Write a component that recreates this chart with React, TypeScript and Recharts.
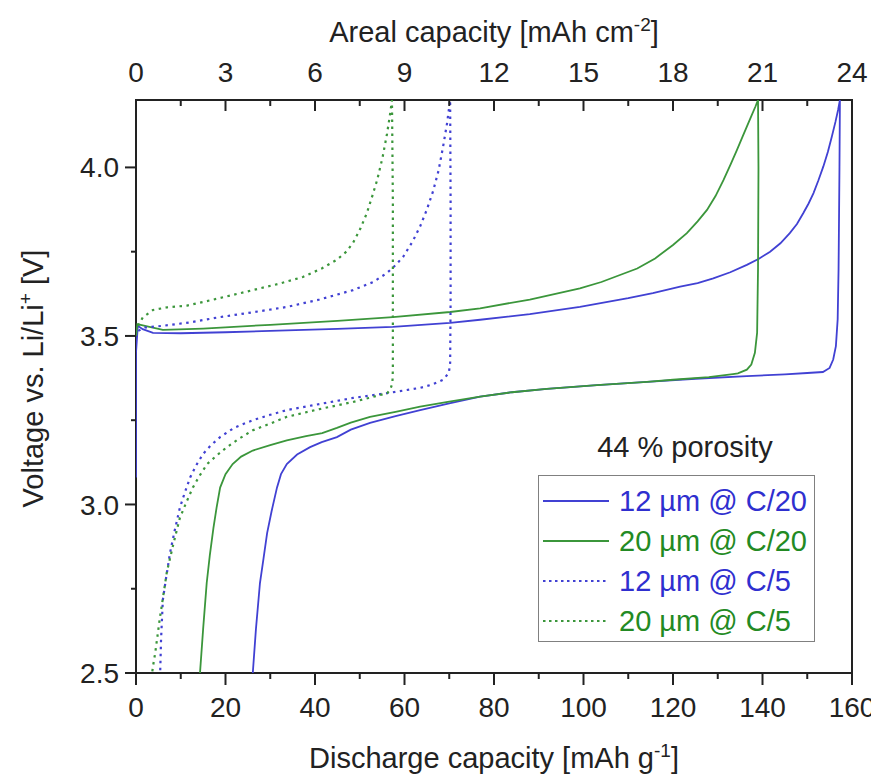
import React from 'react';
import { LineChart, Line, XAxis, YAxis, ReferenceArea, Legend } from 'recharts';

// axis ticks (majors + minors, minors drawn short and unlabeled)
const capacityTicks = [0, 10, 20, 30, 40, 50, 60, 70, 80, 90, 100, 110, 120, 130, 140, 150, 160];
const arealTicks = [0, 1.5, 3, 4.5, 6, 7.5, 9, 10.5, 12, 13.5, 15, 16.5, 18, 19.5, 21, 22.5, 24];
const voltageTicks = [2.5, 2.75, 3, 3.25, 3.5, 3.75, 4];

// 12 um @ C/20 : charge then discharge (capacity in mAh/g, voltage in V)
const cap12C20 = [0, 0, 0.4, 1.5, 3.8, 10, 20, 30, 45, 57.4, 70.2, 76.9, 88, 99.2, 110, 115.5, 121.6, 125.5, 129, 132.8, 136.5, 139.2, 141.7, 144, 146.1, 147.7, 149.1, 150.3, 151.4, 152.5, 153.6, 154.6, 155.5, 156.3, 156.9, 157.3,
  157.2, 157.0, 156.8, 156.4, 155.8, 155.0, 153.5, 150, 145, 136.5, 125, 114.2, 103, 91.8, 84, 76.9, 70, 63.5, 58, 52.3, 48, 44.9, 41.5, 38.9, 36, 33.7, 32.4, 31.5, 30.3, 29.3, 28.5, 27.7, 26.8, 26.1];
const volt12C20 = [3.08, 3.45, 3.53, 3.52, 3.509, 3.508, 3.511, 3.515, 3.521, 3.527, 3.539, 3.548, 3.565, 3.586, 3.612, 3.627, 3.646, 3.657, 3.671, 3.689, 3.711, 3.729, 3.75, 3.775, 3.805, 3.832, 3.864, 3.893, 3.924, 3.962, 4.003, 4.046, 4.092, 4.135, 4.171, 4.2,
  4.0, 3.7, 3.55, 3.47, 3.43, 3.405, 3.393, 3.39, 3.386, 3.381, 3.373, 3.364, 3.354, 3.343, 3.333, 3.32, 3.3, 3.28, 3.262, 3.242, 3.222, 3.2, 3.185, 3.17, 3.148, 3.12, 3.09, 3.05, 2.98, 2.915, 2.84, 2.767, 2.63, 2.5];

// 20 um @ C/20
const cap20C20 = [0, 0.3, 2, 6, 15, 30, 45, 57.4, 70.2, 76.9, 88, 99.2, 104, 108, 112, 116, 120, 123.1, 125.5, 127.6, 129.5, 131.3, 132.9, 134.3, 135.5, 136.5, 137.5, 138.4, 139,
  139.1, 139.0, 138.8, 138.3, 137.5, 136.5, 134.5, 133.4, 128, 120, 114.2, 103, 91.8, 84, 76.9, 70, 63.5, 58, 52.3, 48, 44.9, 41.6, 38, 33.7, 30, 26.1, 23.5, 21.6, 20, 18.8, 18, 17.3, 16.5, 15.8, 15, 14.3];
const volt20C20 = [3.5, 3.535, 3.53, 3.518, 3.522, 3.533, 3.545, 3.556, 3.571, 3.582, 3.608, 3.641, 3.66, 3.68, 3.7, 3.73, 3.77, 3.805, 3.84, 3.874, 3.915, 3.963, 4.01, 4.052, 4.09, 4.121, 4.152, 4.18, 4.2,
  4.0, 3.7, 3.51, 3.45, 3.415, 3.4, 3.389, 3.387, 3.378, 3.37, 3.364, 3.354, 3.343, 3.333, 3.32, 3.305, 3.29, 3.275, 3.26, 3.243, 3.227, 3.212, 3.203, 3.19, 3.176, 3.16, 3.142, 3.12, 3.09, 3.05, 2.99, 2.93, 2.85, 2.767, 2.63, 2.5];

// 12 um @ C/5
const cap12C5 = [0.5, 2, 6, 12, 18.8, 26, 33.7, 41, 48.5, 53, 56.1, 58, 59.7, 61.8, 63.5, 65, 66.4, 67.6, 68.6, 69.5, 70.2,
  70.3, 70.3, 70.2, 69.9, 68.6, 66, 63.5, 56, 48.5, 41, 33.7, 30, 26.1, 22, 18.8, 16.7, 15, 13.4, 12.1, 10.9, 9.8, 8.6, 7.6, 6.7, 6.0, 5.6, 5.4];
const volt12C5 = [3.515, 3.525, 3.53, 3.54, 3.556, 3.57, 3.586, 3.608, 3.636, 3.66, 3.687, 3.71, 3.735, 3.78, 3.825, 3.875, 3.93, 3.99, 4.06, 4.13, 4.2,
  3.9, 3.6, 3.42, 3.39, 3.37, 3.355, 3.346, 3.33, 3.316, 3.298, 3.28, 3.266, 3.25, 3.228, 3.2, 3.175, 3.15, 3.115, 3.08, 3.035, 2.99, 2.92, 2.856, 2.78, 2.717, 2.6, 2.5];

// 20 um @ C/5
const cap20C5 = [0.5, 1.5, 3.8, 7, 11.4, 18, 26.1, 32, 37.3, 41.5, 44.9, 47, 48.5, 50.2, 51.6, 52.8, 53.9, 55.1, 56.1, 56.8, 57.2,
  57.4, 57.4, 57.4, 57.3, 56.8, 56.1, 52, 48.5, 41, 33.7, 30, 26.1, 23, 20.3, 18, 15.9, 14.2, 12.7, 11.2, 9.8, 8.3, 6.9, 5.3, 4.3, 3.8, 3.6];
const volt20C5 = [3.53, 3.555, 3.577, 3.585, 3.59, 3.61, 3.636, 3.655, 3.675, 3.7, 3.726, 3.75, 3.776, 3.82, 3.865, 3.915, 3.963, 4.03, 4.1, 4.16, 4.2,
  3.9, 3.6, 3.4, 3.36, 3.34, 3.33, 3.316, 3.304, 3.283, 3.26, 3.24, 3.22, 3.195, 3.17, 3.145, 3.12, 3.085, 3.05, 3.005, 2.96, 2.88, 2.8, 2.66, 2.56, 2.52, 2.5];

const BLUE = '#4141d3';
const GREEN = '#3b963b';
const AXIS = '#222';
const FONT = '"Liberation Sans", Arial, sans-serif';

const toRows = (cap: number[], volt: number[]) => cap.map((c, i) => ({ cap: c, v: volt[i] }));

const series = [
  { name: '12 µm @ C/20', color: BLUE, dotted: false, data: toRows(cap12C20, volt12C20) },
  { name: '20 µm @ C/20', color: GREEN, dotted: false, data: toRows(cap20C20, volt20C20) },
  { name: '12 µm @ C/5', color: BLUE, dotted: true, data: toRows(cap12C5, volt12C5) },
  { name: '20 µm @ C/5', color: GREEN, dotted: true, data: toRows(cap20C5, volt20C5) },
];

// the top (areal) axis needs data of its own to get a scale; no values, so nothing is drawn
const arealRows = arealTicks.map((a) => ({ areal: a, v: null }));

const BottomTick = (props: any) => {
  const { x, y, payload } = props;
  const major = payload.value % 20 === 0;
  return (
    <g>
      <line x1={x} x2={x} y1={y} y2={y + (major ? 12 : 6)} stroke={AXIS} strokeWidth={2} />
      {major && (
        <text x={x} y={y + 44} textAnchor="middle" fontSize={28} fill={AXIS} fontFamily={FONT}>
          {payload.value}
        </text>
      )}
    </g>
  );
};

const TopTick = (props: any) => {
  const { x, y, payload } = props;
  const major = payload.value % 3 === 0;
  return (
    <g>
      <line x1={x} x2={x} y1={y} y2={y + (major ? 11 : 6)} stroke={AXIS} strokeWidth={2} />
      {major && (
        <text x={x} y={y - 18} textAnchor="middle" fontSize={28} fill={AXIS} fontFamily={FONT}>
          {payload.value}
        </text>
      )}
    </g>
  );
};

const LeftTick = (props: any) => {
  const { x, y, payload } = props;
  const major = Math.abs(payload.value * 2 - Math.round(payload.value * 2)) < 1e-6;
  return (
    <g>
      <line x1={x - (major ? 11 : 5)} x2={x} y1={y} y2={y} stroke={AXIS} strokeWidth={2} />
      {major && (
        <text x={x - 17} y={y} dy="0.36em" textAnchor="end" fontSize={28} fill={AXIS} fontFamily={FONT}>
          {payload.value.toFixed(1)}
        </text>
      )}
    </g>
  );
};

const bottomTitle = (props: any) => {
  const { viewBox } = props;
  return (
    <text x={viewBox.x + viewBox.width / 2} y={viewBox.y + 95} textAnchor="middle" fontSize={29} fill={AXIS} fontFamily={FONT}>
      Discharge capacity [mAh g<tspan dy={-11} fontSize={19}>-1</tspan><tspan dy={11}>]</tspan>
    </text>
  );
};

const topTitle = (props: any) => {
  const { viewBox } = props;
  return (
    <text x={viewBox.x + viewBox.width / 2} y={viewBox.y + 2} textAnchor="middle" fontSize={29} fill={AXIS} fontFamily={FONT}>
      Areal capacity [mAh cm<tspan dy={-11} fontSize={19}>-2</tspan><tspan dy={11}>]</tspan>
    </text>
  );
};

const leftTitle = (props: any) => {
  const { viewBox } = props;
  const cx = viewBox.x + 7;
  const cy = viewBox.y + viewBox.height / 2 - 8;
  return (
    <text x={cx} y={cy} transform={`rotate(-90 ${cx} ${cy})`} textAnchor="middle" fontSize={29} fill={AXIS} fontFamily={FONT}>
      Voltage vs. Li/Li<tspan dy={-11} fontSize={19}>+</tspan><tspan dy={11}> [V]</tspan>
    </text>
  );
};

const renderLegend = () => (
  <div style={{ position: 'relative', width: 300, height: 230, fontFamily: FONT }}>
    <div style={{ position: 'absolute', left: 7, top: 10, width: 300, textAlign: 'center', fontSize: 29, lineHeight: '29px', color: AXIS }}>
      44 % porosity
    </div>
    <div style={{ position: 'absolute', left: 10, top: 52, width: 277, height: 167, boxSizing: 'border-box', border: '1.5px solid #808080', background: '#fff' }}>
      {series.map((s, i) => (
        <div key={s.name} style={{ position: 'absolute', left: 4, top: 5 + i * 40, height: 40, display: 'flex', alignItems: 'center' }}>
          <svg width={66} height={10} style={{ display: 'block' }}>
            <line x1={0} x2={66} y1={5} y2={5} stroke={s.color} strokeWidth={1.8} strokeDasharray={s.dotted ? '2.5 3.5' : undefined} />
          </svg>
          <span style={{ marginLeft: 10, fontSize: 29, lineHeight: '29px', color: s.color === BLUE ? '#2f2fcf' : '#238a23', whiteSpace: 'nowrap' }}>{s.name}</span>
        </div>
      ))}
    </div>
  </div>
);

export default function App() {
  return (
    <div style={{ width: 871, height: 770, background: '#fff' }}>
      <LineChart width={871} height={770} margin={{ top: 32, right: 27, bottom: 25, left: 28 }}>
        <XAxis
          xAxisId="bottom"
          dataKey="cap"
          type="number"
          domain={[0, 160]}
          ticks={capacityTicks}
          interval={0}
          allowDataOverflow
          height={80}
          axisLine={false}
          tickSize={0}
          tickMargin={0}
          tick={(p: any) => <BottomTick {...p} />}
          label={bottomTitle}
        />
        <XAxis
          xAxisId="top"
          dataKey="areal"
          orientation="top"
          type="number"
          domain={[0, 24]}
          ticks={arealTicks}
          interval={0}
          allowDataOverflow
          height={60}
          axisLine={false}
          tickSize={0}
          tickMargin={0}
          tick={(p: any) => <TopTick {...p} />}
          label={topTitle}
        />
        <YAxis
          type="number"
          domain={[2.5, 4.2]}
          ticks={voltageTicks}
          interval={0}
          allowDataOverflow
          width={100}
          axisLine={false}
          tickSize={0}
          tickMargin={0}
          tick={(p: any) => <LeftTick {...p} />}
          label={leftTitle}
        />
        <ReferenceArea xAxisId="bottom" x1={0} x2={160} y1={2.5} y2={4.2} fill="none" fillOpacity={0} stroke={AXIS} strokeWidth={2} ifOverflow="visible" />
        <Line
          xAxisId="top"
          data={arealRows}
          dataKey="v"
          legendType="none"
          stroke="none"
          dot={false}
          activeDot={false}
          isAnimationActive={false}
        />
        {series.map((s) => (
          <Line
            key={s.name}
            xAxisId="bottom"
            data={s.data}
            dataKey="v"
            name={s.name}
            type="linear"
            stroke={s.color}
            strokeWidth={s.dotted ? 2.2 : 1.8}
            strokeDasharray={s.dotted ? '2.5 4.5' : undefined}
            dot={false}
            activeDot={false}
            isAnimationActive={false}
          />
        ))}
        <Legend
          layout="horizontal"
          verticalAlign="middle"
          align="center"
          content={renderLegend}
          wrapperStyle={{ position: 'absolute', left: 520, top: 415, width: 300, height: 230 }}
        />
      </LineChart>
    </div>
  );
}
